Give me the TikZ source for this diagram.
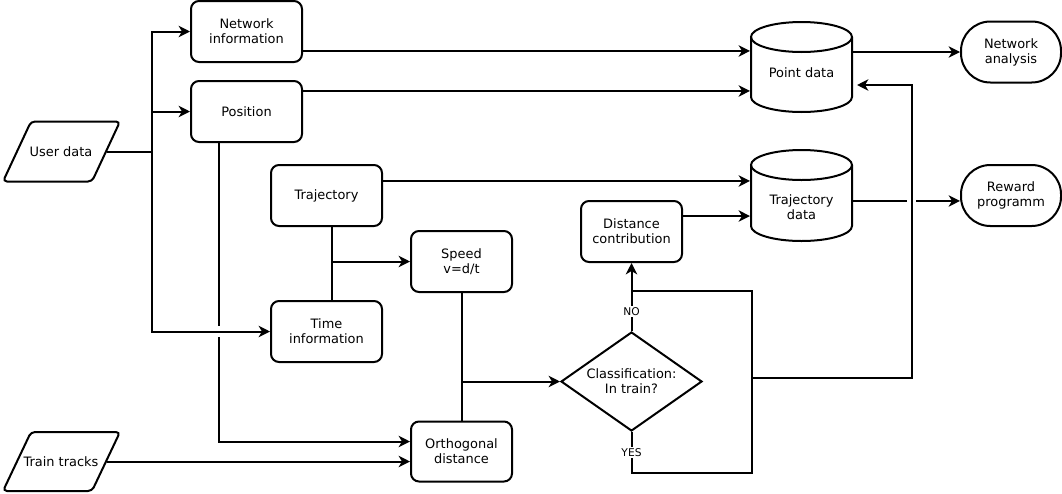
\documentclass[tikz,border=0pt]{standalone}
\usepackage{fontspec}
\setmainfont{DejaVu Sans}
\usetikzlibrary{arrows.meta,shapes.geometric}
\begin{document}
\begin{tikzpicture}[x=0.75pt,y=-0.75pt, line width=1.5pt,
  >={Stealth[length=8.5pt,width=8.5pt,inset=2.5pt]},
  every node/.style={font=\fontsize{9.7pt}{11.25pt}\selectfont},
  box/.style={draw, rounded corners=6pt, minimum width=83.25pt, minimum height=45.75pt, align=center, inner sep=0pt},
  sbox/.style={box, minimum width=75.75pt},
  term/.style={draw, rounded corners=22pt, minimum width=75pt, minimum height=45.75pt, align=center, inner sep=0pt},
  dec/.style={draw, diamond, aspect=1.42, minimum width=105.75pt, minimum height=74.25pt, inner sep=0pt, align=center},
  holder/.style={minimum width=75.75pt, inner sep=0pt},
  txt/.style={align=center, inner sep=0pt},
  lbl/.style={fill=white, inner sep=1pt, font=\fontsize{8pt}{9pt}\selectfont},
  para/.style={rounded corners=3pt}]
\useasboundingbox (0,0) rectangle (1062,493);

% input parallelograms
\draw[para] (31,121.5) -- (120,121.5) -- (92,181.5) -- (3,181.5) -- cycle;
\node[txt] (user) at (61,151.5) {User data};
\draw[para] (31,432) -- (120,432) -- (92,491) -- (3,491) -- cycle;
\node[txt] (train) at (61,461.5) {Train tracks};
\coordinate (userR) at (107,151.5);
\coordinate (trainR) at (107,461.5);

% process boxes
\node[box] (netinfo) at (246.5,31.5) {Network\\information};
\node[box] (position) at (246.5,111.5) {Position};
\node[box] (traj) at (326.5,195.5) {Trajectory};
\node[box] (time) at (326.5,331.5) {Time\\information};
\node[sbox] (speed) at (461.5,261.5) {Speed\\v=d/t};
\node[sbox, minimum height=45pt] (orth) at (461.5,451.5) {Orthogonal\\distance};
\node[sbox] (dist) at (631.5,231.5) {Distance\\contribution};
\node[dec] (cls) at (631.5,381.5) {Classification:\\In train?};
\node[term] (netan) at (1011,52) {Network\\analysis};
\node[term] (reward) at (1011,195.5) {Reward\\programm};

% cylinders
\draw (751,37) -- (751,97) arc[start angle=180, end angle=360, x radius=37.875pt, y radius=11.25pt] -- (852,37);
\draw (801.5,37) ellipse [x radius=37.875pt, y radius=11.25pt];
\node[holder, minimum height=67.5pt] (pointdata) at (801.5,67) {};
\node[txt] (pointtext) at (801.5,73) {Point data};

\draw (751,165) -- (751,226) arc[start angle=180, end angle=360, x radius=37.875pt, y radius=11.25pt] -- (852,165);
\draw (801.5,165) ellipse [x radius=37.875pt, y radius=11.25pt];
\node[holder, minimum height=68.25pt] (trajdata) at (801.5,195.5) {};
\node[txt] (trajtext) at (801.5,207.5) {Trajectory\\data};

% user data bus
\coordinate (bus) at (152,151.5);
\draw (userR) -- (bus);
\draw[->] (bus) |- (netinfo.west);
\draw[->] (bus |- position.west) -- (position.west);

% position to orthogonal distance (with gap)
\draw[->] ([xshift=-20.6pt]position.south) |- ([yshift=7.5pt]orth.west);
\fill[white] (215.5,326) rectangle (222.5,336.5);
\draw[->] (bus) |- (time.west);

% train tracks
\draw[->] (trainR) -- ([yshift=-7.5pt]orth.west);

% trajectory / time / speed
\draw ([xshift=4pt]traj.south) -- ([xshift=4pt]time.north);
\draw[->] ([xshift=4pt]traj.south |- speed.west) -- (speed.west);
\draw (speed.south) -- (orth.north);
\draw[->] (speed.south |- cls.west) -- (cls.west);

% to data stores
\draw[->] ([yshift=-14.6pt]netinfo.east) -- ([yshift=-14.6pt]netinfo.east -| pointdata.west);
\draw[->] ([yshift=15.4pt]position.east) -- ([yshift=15.4pt]position.east -| pointdata.west);
\draw[->] ([yshift=10.9pt]traj.east) -- ([yshift=10.9pt]traj.east -| trajdata.west);
\draw[->] ([yshift=11.6pt]dist.east) -- ([yshift=11.6pt]dist.east -| trajdata.west);
\draw[->] (pointdata.east |- netan.west) -- (netan.west);
\draw[->] ([yshift=-4.1pt]trajdata.east) -- ([yshift=-4.1pt]reward.west);
\fill[white] (907,196) rectangle (916,206);

% classification
\coordinate (loopR) at (752,0);
\coordinate (fb) at (752,378);
\coordinate (pdin) at (857,85);
\draw[->] (cls.north) -- node[lbl, pos=0.29] {NO} (dist.south);
\draw (cls.south) -- node[lbl, pos=0.5] {YES} ++(0,41) -| (loopR |- 0,291) -- (cls.north |- 0,291);
\draw[->] (fb) -- (912,378) |- (pdin);
\end{tikzpicture}
\end{document}
